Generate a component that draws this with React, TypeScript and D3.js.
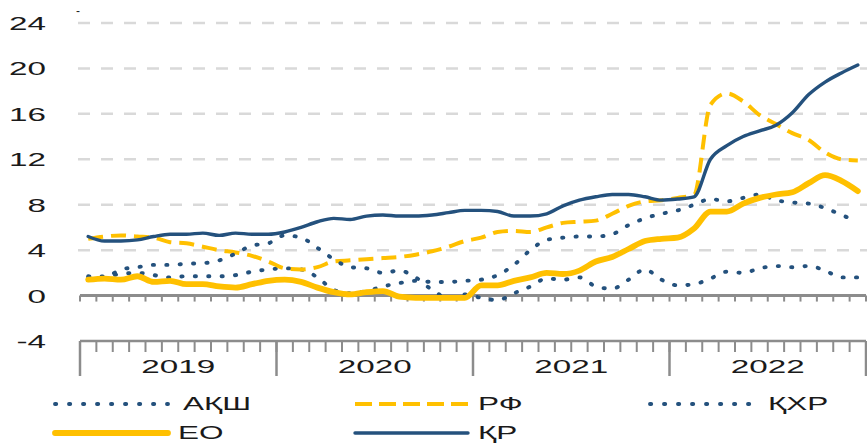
import React from 'react';
import * as d3 from 'd3';

// monthly inflation, % y/y, Jan 2019 – Dec 2022
const years = ['2019', '2020', '2021', '2022'];
const yTicks = [-4, 0, 4, 8, 12, 16, 20, 24];

const usa = [
  1.6, 1.7, 1.9, 2.0, 1.8, 1.6, 1.7, 1.7, 1.7, 1.8, 2.1, 2.3,
  2.4, 2.3, 1.6, 0.5, 0.2, 0.4, 0.8, 1.1, 1.3, 1.2, 1.2, 1.3,
  1.4, 1.8, 2.7, 4.0, 4.9, 5.1, 5.2, 5.2, 5.4, 6.2, 6.8, 7.2,
  7.5, 8.0, 8.5, 8.3, 8.6, 8.9, 8.4, 8.2, 8.1, 7.7, 7.1, 6.5,
];
const rf = [
  5.0, 5.2, 5.3, 5.2, 5.1, 4.7, 4.6, 4.3, 4.0, 3.8, 3.5, 3.0,
  2.4, 2.3, 2.5, 3.0, 3.1, 3.2, 3.3, 3.4, 3.6, 3.9, 4.3, 4.8,
  5.1, 5.6, 5.7, 5.6, 6.0, 6.4, 6.5, 6.6, 7.2, 7.9, 8.3, 8.4,
  8.6, 8.9, 16.8, 17.8, 17.1, 15.9, 15.1, 14.3, 13.7, 12.6, 12.0, 11.9,
];
const china = [
  1.7, 1.6, 2.3, 2.5, 2.7, 2.7, 2.8, 2.85, 3.1, 3.7, 4.4, 4.6,
  5.3, 5.1, 4.2, 3.2, 2.5, 2.4, 2.0, 2.2, 1.6, 0.5, -0.2, 0.1,
  -0.2, -0.4, 0.2, 0.8, 1.5, 1.4, 1.6, 0.8, 0.6, 1.4, 2.3, 1.4,
  0.9, 1.0, 1.5, 2.1, 2.0, 2.4, 2.6, 2.5, 2.6, 2.2, 1.6, 1.6,
];
const eo = [
  1.4, 1.5, 1.4, 1.7, 1.2, 1.3, 1.0, 1.0, 0.8, 0.7, 1.0, 1.3,
  1.4, 1.2, 0.7, 0.3, 0.1, 0.3, 0.4, -0.1, -0.2, -0.2, -0.2, -0.2,
  0.9, 0.9, 1.3, 1.6, 2.0, 1.9, 2.2, 3.0, 3.4, 4.1, 4.8, 5.0,
  5.1, 5.9, 7.4, 7.4, 8.1, 8.6, 8.9, 9.1, 9.9, 10.6, 10.1, 9.2,
];
const kz = [
  5.2, 4.8, 4.8, 4.9, 5.2, 5.4, 5.4, 5.5, 5.3, 5.5, 5.4, 5.4,
  5.6, 6.0, 6.5, 6.8, 6.7, 7.0, 7.1, 7.0, 7.0, 7.1, 7.3, 7.5,
  7.5, 7.4, 7.0, 7.0, 7.2, 7.9, 8.4, 8.7, 8.9, 8.9, 8.7, 8.4,
  8.5, 8.7, 12.0, 13.2, 14.0, 14.5, 15.0, 16.1, 17.7, 18.8, 19.6, 20.3,
];

const BLUE = '#24517d';
const YELLOW = '#ffc000';
const AXIS = '#8c8c8c';
const GRID = '#d9d9d9';
const FONT = '"Liberation Sans", Arial, sans-serif';
const STRETCH = 1.75;

type Style = { stroke: string; width: number; dash?: string; legendDash?: string; cap?: 'round' | 'butt' };

const dotted: Style = { stroke: BLUE, width: 3.9, dash: '1.2 12.2', legendDash: '1.2 12.8', cap: 'round' };
const dashed: Style = { stroke: YELLOW, width: 4, dash: '15 8', legendDash: '17 7', cap: 'butt' };
const thick: Style = { stroke: YELLOW, width: 5.8, cap: 'round' };
const solid: Style = { stroke: BLUE, width: 3.4, cap: 'round' };

const series = [
  { name: 'АҚШ', values: usa, style: dotted },
  { name: 'РФ', values: rf, style: dashed },
  { name: 'ҚХР', values: china, style: dotted },
  { name: 'ЕО', values: eo, style: thick },
  { name: 'ҚР', values: kz, style: solid },
];

const W = 867;
const H = 443;
const left = 80;
const right = 866;
const nMonths = years.length * 12;

export default function App() {
  const x = d3.scaleLinear().domain([0, nMonths]).range([left, right]);
  const y = d3.scaleLinear().domain([-4, 24]).range([341, 23]);

  const line = d3
    .line<number>()
    .x((_, i) => x(i + 0.5))
    .y((d) => y(d))
    .curve(d3.curveMonotoneX);

  const monthEdges = d3.range(nMonths + 1);
  const yearEdges = d3.range(years.length + 1).map((i) => i * 12);

  // legend layout: row / column slots
  const legendCols = [55, 355, 650];
  const legendRows = [404, 433];

  return (
    <svg
      width={W}
      height={H}
      style={{ position: 'absolute', left: 0, top: 0, background: '#fff' }}
      fontFamily={FONT}
    >
      {/* stray mark at top left */}
      <text x={76} y={15} fontSize={12} fill="#222">-</text>

      {/* grid */}
      {yTicks
        .filter((t) => t > 0)
        .map((t) => (
          <line
            key={t}
            x1={78}
            x2={W}
            y1={y(t)}
            y2={y(t)}
            stroke={GRID}
            strokeWidth={2.5}
            strokeDasharray="12 11"
          />
        ))}

      {/* y tick labels */}
      {yTicks.map((t) => (
        <text
          key={t}
          transform={`translate(46,${y(t) + 7}) scale(${STRETCH},1)`}
          textAnchor="end"
          fontSize={19}
          fill="#1a1a1a"
        >
          {t}
        </text>
      ))}

      {/* zero line with month ticks */}
      <line x1={left} x2={right} y1={y(0)} y2={y(0)} stroke={AXIS} strokeWidth={3} />
      {monthEdges.map((m) => (
        <line key={m} x1={x(m)} x2={x(m)} y1={y(0)} y2={y(0) + 6} stroke={AXIS} strokeWidth={2} />
      ))}

      {/* bottom axis */}
      <line x1={left} x2={right} y1={y(-4)} y2={y(-4)} stroke={AXIS} strokeWidth={2.5} />
      {monthEdges.map((m) => (
        <line key={m} x1={x(m)} x2={x(m)} y1={y(-4)} y2={y(-4) + 11} stroke={AXIS} strokeWidth={2} />
      ))}
      {yearEdges.map((m) => (
        <line key={m} x1={x(m)} x2={x(m)} y1={y(-4)} y2={y(-4) + 35} stroke={AXIS} strokeWidth={2.5} />
      ))}
      {years.map((yr, i) => (
        <text
          key={yr}
          transform={`translate(${x(i * 12 + 6)},373) scale(${STRETCH},1)`}
          textAnchor="middle"
          fontSize={19}
          fill="#1a1a1a"
        >
          {yr}
        </text>
      ))}

      {/* series */}
      {series.map((s) => (
        <path
          key={s.name}
          d={line(s.values) || ''}
          fill="none"
          stroke={s.style.stroke}
          strokeWidth={s.style.width}
          strokeDasharray={s.style.dash}
          strokeLinecap={s.style.cap}
          strokeLinejoin="round"
        />
      ))}

      {/* legend */}
      {series.map((s, i) => {
        const row = i < 3 ? 0 : 1;
        const col = i < 3 ? i : i - 3;
        const lx = legendCols[col];
        const ly = legendRows[row];
        const sampleW = col === 2 ? 108 : 113;
        return (
          <g key={s.name}>
            <line
              x1={lx}
              x2={lx + sampleW}
              y1={ly}
              y2={ly}
              stroke={s.style.stroke}
              strokeWidth={s.style.width}
              strokeDasharray={s.style.legendDash}
              strokeLinecap={s.style.cap}
            />
            <text
              transform={`translate(${lx + sampleW + (col === 0 && row === 0 ? 15 : 10)},${ly + 5.5}) scale(${STRETCH},1)`}
              fontSize={18}
              fill="#1a1a1a"
            >
              {s.name}
            </text>
          </g>
        );
      })}
    </svg>
  );
}
